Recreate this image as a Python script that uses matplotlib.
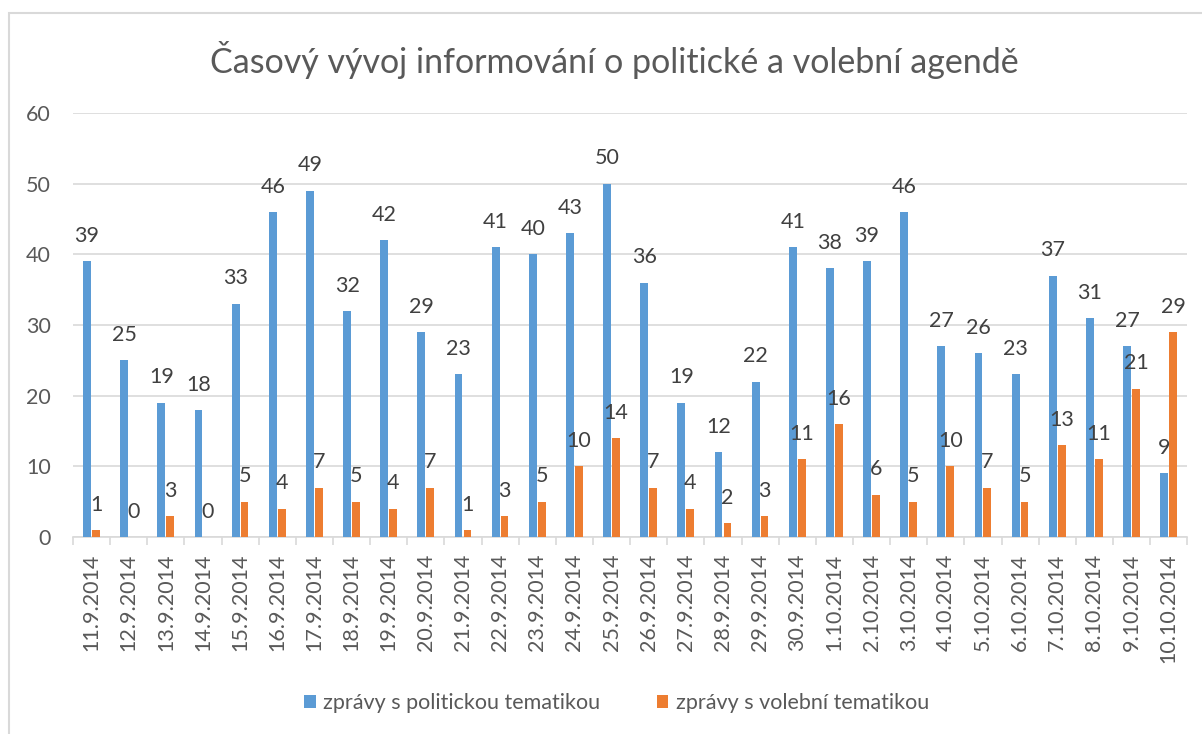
import numpy as np
import matplotlib.pyplot as plt
from matplotlib.patches import Rectangle

plt.rcParams['font.family'] = ['Lato', 'DejaVu Sans']

# data
dates = ["11.9.2014", "12.9.2014", "13.9.2014", "14.9.2014", "15.9.2014",
         "16.9.2014", "17.9.2014", "18.9.2014", "19.9.2014", "20.9.2014",
         "21.9.2014", "22.9.2014", "23.9.2014", "24.9.2014", "25.9.2014",
         "26.9.2014", "27.9.2014", "28.9.2014", "29.9.2014", "30.9.2014",
         "1.10.2014", "2.10.2014", "3.10.2014", "4.10.2014", "5.10.2014",
         "6.10.2014", "7.10.2014", "8.10.2014", "9.10.2014", "10.10.2014"]
politicke = [39, 25, 19, 18, 33, 46, 49, 32, 42, 29, 23, 41, 40, 43, 50,
             36, 19, 12, 22, 41, 38, 39, 46, 27, 26, 23, 37, 31, 27, 9]
volebni = [1, 0, 3, 0, 5, 4, 7, 5, 4, 7, 1, 3, 5, 10, 14,
           7, 4, 2, 3, 11, 16, 6, 5, 10, 7, 5, 13, 11, 21, 29]

modra = "#5B9BD5"
oranzova = "#ED7D31"
seda = "#D9D9D9"
text_seda = "#595959"

fig = plt.figure(figsize=(12.02, 7.34), dpi=100)
ax = fig.add_axes([0.0607, 0.2684, 0.927, 0.5777])

x = np.arange(len(dates))
w = 0.21
b1 = ax.bar(x - 0.12, politicke, w, color=modra, zorder=3)
b2 = ax.bar(x + 0.12, volebni, w, color=oranzova, zorder=3)

# popisky hodnot nad sloupci
for rects, vals in [(b1, politicke), (b2, volebni)]:
    for r, v in zip(rects, vals):
        ax.annotate(str(v), (r.get_x() + r.get_width() / 2, v),
                    xytext=(0, 11), textcoords="offset points",
                    ha="center", va="bottom", fontsize=15.5, color="#404040")

ax.set_xlim(-0.5, len(dates) - 0.5)
ax.set_ylim(0, 60)
ax.set_yticks(range(0, 61, 10))
ax.yaxis.grid(True, color=seda, linewidth=1.2, zorder=0)
ax.set_axisbelow(True)

ax.set_xticks(x)
ax.set_xticklabels(dates, rotation=90, fontsize=15.5, color=text_seda)
ax.set_xticks(np.arange(-0.5, len(dates), 1), minor=True)
ax.tick_params(axis="x", which="major", length=0, pad=12)
ax.tick_params(axis="x", which="minor", length=6, color=seda, width=1.2)
ax.tick_params(axis="y", length=0, pad=16, labelsize=15.5, labelcolor=text_seda)

for s in ["top", "right", "left"]:
    ax.spines[s].set_visible(False)
ax.spines["bottom"].set_color(seda)
ax.spines["bottom"].set_linewidth(1.2)

fig.text(0.511, 0.918, "Časový vývoj informování o politické a volební agendě",
         ha="center", va="center", fontsize=24.5, color=text_seda)

leg = fig.legend([b1, b2], ["zprávy s politickou tematikou", "zprávy s volební tematikou"],
                 loc="center", bbox_to_anchor=(0.513, 0.042), ncol=2, frameon=False,
                 fontsize=15.5, handlelength=0.55, handleheight=0.55, handletextpad=0.35,
                 columnspacing=2.6)
for t in leg.get_texts():
    t.set_color(text_seda)

# ramecek grafu
fig.patches.append(Rectangle((0.0075, -0.5), 1.5, 0.9823 + 0.5, transform=fig.transFigure,
                             fill=False, edgecolor=seda, linewidth=1.5))

fig.savefig("out.png", dpi=100)
